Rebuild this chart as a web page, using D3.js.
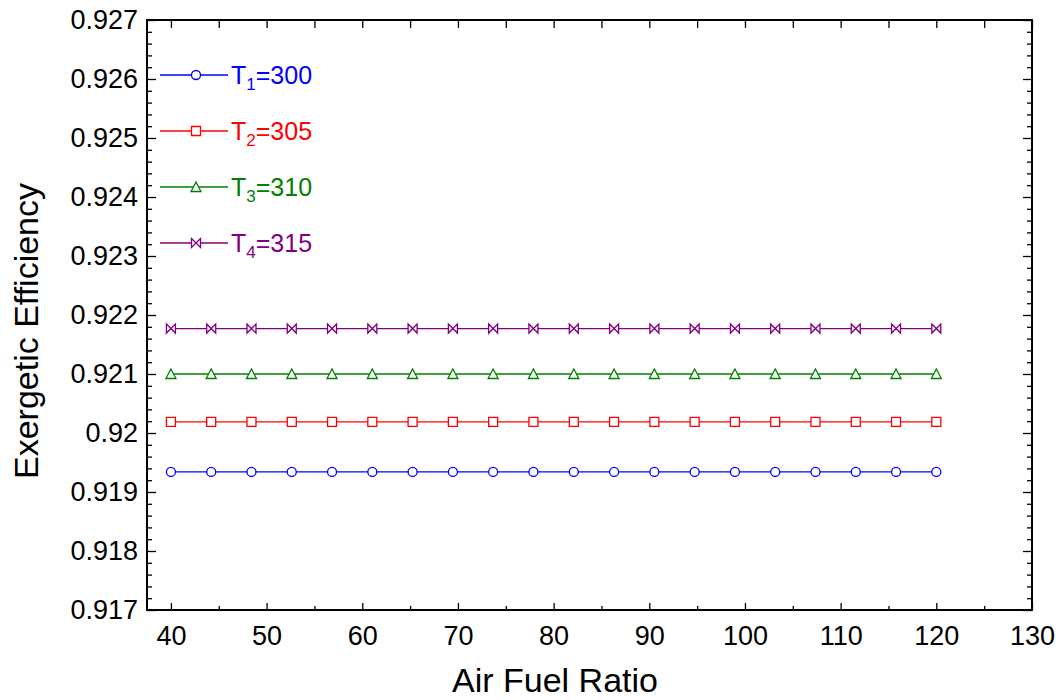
<!DOCTYPE html>
<meta charset="utf-8">
<script src="https://d3js.org/d3.v7.min.js"></script>
<style>
  body { margin: 0; background: #fff; }
  text { font-family: "Liberation Sans", Arial, sans-serif; }
</style>
<body>
<script>

// DATA

var airFuelRatio = [40, 44.21, 48.42, 52.63, 56.84, 61.05, 65.26, 69.47, 73.68, 77.89,
                    82.11, 86.32, 90.53, 94.74, 98.95, 103.16, 107.37, 111.58, 115.79, 120];

var effT1 = [0.91934, 0.91934, 0.91934, 0.91934, 0.91934, 0.91934, 0.91934, 0.91934, 0.91934, 0.91934,
             0.91934, 0.91934, 0.91934, 0.91934, 0.91934, 0.91934, 0.91934, 0.91934, 0.91934, 0.91934];
var effT2 = [0.92019, 0.92019, 0.92019, 0.92019, 0.92019, 0.92019, 0.92019, 0.92019, 0.92019, 0.92019,
             0.92019, 0.92019, 0.92019, 0.92019, 0.92019, 0.92019, 0.92019, 0.92019, 0.92019, 0.92019];
var effT3 = [0.92100, 0.92100, 0.92100, 0.92100, 0.92100, 0.92100, 0.92100, 0.92100, 0.92100, 0.92100,
             0.92100, 0.92100, 0.92100, 0.92100, 0.92100, 0.92100, 0.92100, 0.92100, 0.92100, 0.92100];
var effT4 = [0.92177, 0.92177, 0.92177, 0.92177, 0.92177, 0.92177, 0.92177, 0.92177, 0.92177, 0.92177,
             0.92177, 0.92177, 0.92177, 0.92177, 0.92177, 0.92177, 0.92177, 0.92177, 0.92177, 0.92177];

var seriesNames = ["1", "2", "3", "4"];
var seriesTemps = ["300", "305", "310", "315"];

var xTicks = [40, 50, 60, 70, 80, 90, 100, 110, 120, 130];
var xMinorTicks = [45, 55, 65, 75, 85, 95, 105, 115, 125];
var yTicks = [0.917, 0.918, 0.919, 0.92, 0.921, 0.922, 0.923, 0.924, 0.925, 0.926, 0.927];
var yTickLabels = ["0.917", "0.918", "0.919", "0.92", "0.921", "0.922", "0.923", "0.924", "0.925", "0.926", "0.927"];


// SETUP

var width = 1062;
var height = 700;
var margin = { top: 20, left: 147, right: 30, bottom: 90 };

var colors = ["#0000ff", "#ff0000", "#008000", "#800080"];
var shapes = ["circle", "square", "triangle", "bowtie"];
var series = [effT1, effT2, effT3, effT4];

var svg = d3.select("body")
  .append("svg")
  .attr("width", width)
  .attr("height", height);

var xScale = d3.scaleLinear()
  .domain([37.5, 130])
  .range([margin.left, width - margin.right]);

var yScale = d3.scaleLinear()
  .domain([0.917, 0.927])
  .range([height - margin.bottom, margin.top]);

// minor y ticks every 0.0002
var yMinorTicks = [];
yTicks.slice(0, -1).forEach(function (t) {
  [1, 2, 3, 4].forEach(function (k) { yMinorTicks.push(t + k * 0.0002); });
});


// AXES (ticks inward on all four sides)

var x0 = margin.left, x1 = width - margin.right;
var y0 = height - margin.bottom, y1 = margin.top;

var bottomAxis = svg.append("g")
  .attr("transform", "translate(0," + y0 + ")")
  .call(d3.axisBottom(xScale).tickValues(xTicks).tickSize(-7).tickPadding(16)
    .tickFormat(function (d) { return d; }));
bottomAxis.select(".domain").remove();
bottomAxis.selectAll("text").style("font-size", "27px").attr("fill", "#000");

var bottomMinor = svg.append("g")
  .attr("transform", "translate(0," + y0 + ")")
  .call(d3.axisBottom(xScale).tickValues(xMinorTicks).tickSize(-4).tickFormat(""));
bottomMinor.select(".domain").remove();

var topAxis = svg.append("g")
  .attr("transform", "translate(0," + y1 + ")")
  .call(d3.axisTop(xScale).tickValues(xTicks.concat(xMinorTicks)).tickSize(-8).tickFormat(""));
topAxis.select(".domain").remove();

var leftAxis = svg.append("g")
  .attr("transform", "translate(" + x0 + ",0)")
  .call(d3.axisLeft(yScale).tickValues(yTicks).tickSize(-9).tickPadding(9)
    .tickFormat(function (d, i) { return yTickLabels[i]; }));
leftAxis.select(".domain").remove();
leftAxis.selectAll("text").style("font-size", "27px").attr("fill", "#000");

var leftMinor = svg.append("g")
  .attr("transform", "translate(" + x0 + ",0)")
  .call(d3.axisLeft(yScale).tickValues(yMinorTicks).tickSize(-5).tickFormat(""));
leftMinor.select(".domain").remove();

var rightAxis = svg.append("g")
  .attr("transform", "translate(" + x1 + ",0)")
  .call(d3.axisRight(yScale).tickValues(yTicks).tickSize(-9).tickFormat(""));
rightAxis.select(".domain").remove();

var rightMinor = svg.append("g")
  .attr("transform", "translate(" + x1 + ",0)")
  .call(d3.axisRight(yScale).tickValues(yMinorTicks).tickSize(-5).tickFormat(""));
rightMinor.select(".domain").remove();

svg.selectAll(".tick line").attr("stroke", "#000").attr("stroke-width", 1.3);

// frame
svg.append("rect")
  .attr("x", x0)
  .attr("y", y1)
  .attr("width", x1 - x0)
  .attr("height", y0 - y1)
  .attr("fill", "none")
  .attr("stroke", "#000")
  .attr("stroke-width", 2);


// MARKERS

function markerPath(shape) {
  if (shape === "circle") return "M-4.5,0A4.5,4.5 0 1,0 4.5,0A4.5,4.5 0 1,0 -4.5,0Z";
  if (shape === "square") return "M-4.5,-4.5H4.5V4.5H-4.5Z";
  if (shape === "triangle") return "M0,-5L5,4.5H-5Z";
  return "M-4.5,-4.5L4.5,4.5V-4.5L-4.5,4.5Z";
}

function drawMarker(g, shape, color) {
  g.append("path")
    .attr("d", markerPath(shape))
    .attr("fill", "#fff")
    .attr("stroke", color)
    .attr("stroke-width", 1.3);
}


// SERIES

var line = d3.line()
  .x(function (d, i) { return xScale(airFuelRatio[i]); })
  .y(function (d) { return yScale(d); });

series.forEach(function (vals, s) {
  svg.append("path")
    .datum(vals)
    .attr("d", line)
    .attr("fill", "none")
    .attr("stroke", colors[s])
    .attr("stroke-width", 1.3);

  svg.selectAll(".pt" + s)
    .data(vals)
    .enter()
    .append("g")
      .attr("class", "pt" + s)
      .attr("transform", function (d, i) {
        return "translate(" + xScale(airFuelRatio[i]) + "," + yScale(d) + ")";
      })
      .each(function () { drawMarker(d3.select(this), shapes[s], colors[s]); });
});


// LEGEND

var legendY = [75, 131, 187, 243];

seriesNames.forEach(function (name, s) {
  var g = svg.append("g").attr("transform", "translate(160," + legendY[s] + ")");
  g.append("line")
    .attr("x1", 0).attr("x2", 68)
    .attr("stroke", colors[s])
    .attr("stroke-width", 1.3);
  var m = g.append("g").attr("transform", "translate(36,0)");
  drawMarker(m, shapes[s], colors[s]);
  var t = g.append("text")
    .attr("x", 71)
    .attr("y", 9)
    .attr("fill", colors[s])
    .style("font-size", "25px");
  t.append("tspan").text("T");
  t.append("tspan").attr("dy", 6).style("font-size", "17px").text(name);
  t.append("tspan").attr("dy", -6).text("=" + seriesTemps[s]);
});


// AXIS LABELS

svg.append("text")
  .attr("text-anchor", "middle")
  .attr("x", 555)
  .attr("y", 692)
  .style("font-size", "34px")
  .text("Air Fuel Ratio");

svg.append("text")
  .attr("text-anchor", "middle")
  .attr("transform", "translate(38," + 331 + ")rotate(-90)")
  .style("font-size", "34px")
  .text("Exergetic Efficiency");

</script>
</body>
